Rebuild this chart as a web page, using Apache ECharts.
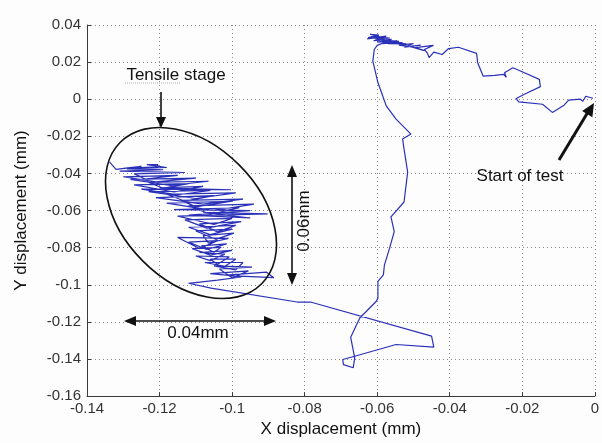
<!DOCTYPE html>
<html><head><meta charset="utf-8">
<script src="https://cdn.jsdelivr.net/npm/echarts@6/dist/echarts.min.js"></script>
<style>html,body{margin:0;padding:0;background:#fdfdfd}#c{width:602px;height:443px}</style>
</head><body><div id="c"></div>
<script>
// Axis ranges (mm)
const xRange = [-0.14, 0];
const yRange = [-0.16, 0.04];
const tickStep = 0.02;

// Trajectory segments, in order of the test
const startPath = [
  [-0.0005,0.0005],[-0.0025,0.0016],[-0.0033,-0.0011],[-0.0040,0.0000],[-0.0072,-0.0005],
  [-0.0085,-0.0032],[-0.0117,-0.0071],[-0.0144,-0.0027],[-0.0210,-0.0014],[-0.0217,0.0004],
  [-0.0194,0.0027],[-0.0150,0.0068],[-0.0153,0.0107],[-0.0194,0.0143],[-0.0226,0.0170],
  [-0.0249,0.0143],[-0.0244,0.0118],[-0.0251,0.0134],[-0.0276,0.0129],[-0.0308,0.0125],
  [-0.0323,0.0197],[-0.0326,0.0247],[-0.0376,0.0280],[-0.0403,0.0273],[-0.0421,0.0241],
  [-0.0444,0.0254],[-0.0457,0.0224],[-0.0462,0.0250]
];
const topScribble = [
  [-0.0470,0.0268],[-0.0445,0.0290],[-0.0495,0.0278],[-0.0470,0.0262],[-0.0510,0.0285],
  [-0.0480,0.0292],[-0.0525,0.0280],[-0.0500,0.0300],[-0.0540,0.0292],[-0.0515,0.0285],
  [-0.0555,0.0305],[-0.0520,0.0298],[-0.0570,0.0300],[-0.0540,0.0312],[-0.0585,0.0318],
  [-0.0550,0.0305],[-0.0600,0.0322],[-0.0565,0.0330],[-0.0615,0.0338],[-0.0580,0.0325],
  [-0.0625,0.0332],[-0.0595,0.0345],[-0.0620,0.0350],[-0.0590,0.0335],[-0.0628,0.0325],
  [-0.0575,0.0340],[-0.0610,0.0315],[-0.0560,0.0322],[-0.0600,0.0308],[-0.0545,0.0315],
  [-0.0590,0.0300],[-0.0530,0.0305],[-0.0575,0.0310],[-0.0600,0.0290],[-0.0605,0.0285]
];
const descent = [
  [-0.0608,0.0268],[-0.0612,0.0205],[-0.0598,0.0090],[-0.0575,-0.0036],[-0.0548,-0.0107],
  [-0.0507,-0.0188],[-0.0530,-0.0214],[-0.0526,-0.0268],[-0.0516,-0.0393],[-0.0526,-0.0554],
  [-0.0562,-0.0634],[-0.0553,-0.0714],[-0.0566,-0.0804],[-0.0580,-0.0893],[-0.0583,-0.0947],
  [-0.0598,-0.0982],[-0.0598,-0.1072],[-0.0603,-0.1090],[-0.0648,-0.1179],[-0.0673,-0.1283]
];
const bottomLoop = [
  [-0.0662,-0.1394],[-0.0666,-0.1447],[-0.0693,-0.1430],[-0.0695,-0.1403],[-0.0662,-0.1385],
  [-0.0548,-0.1322],[-0.0444,-0.1336],[-0.0450,-0.1277]
];
const returnPath = [
  [-0.0784,-0.1093],[-0.0821,-0.1093],[-0.1058,-0.1018],[-0.1120,-0.0992]
];
const tensileCluster = [
  [-0.1040,-0.0975],[-0.0975,-0.0958],[-0.1015,-0.0948],[-0.0905,-0.0932],[-0.0885,-0.0962],
  [-0.0995,-0.0952],[-0.1060,-0.0940],[-0.0955,-0.0925],[-0.1000,-0.0962],[-0.1035,-0.0915],
  [-0.0945,-0.0905],[-0.1050,-0.0898],[-0.0990,-0.0920],[-0.0970,-0.0880],[-0.1075,-0.0880],
  [-0.1020,-0.0900],[-0.0990,-0.0862],[-0.1060,-0.0862],[-0.1040,-0.0890],[-0.1008,-0.0850],
  [-0.1100,-0.0845],[-0.1060,-0.0870],[-0.1020,-0.0835],
  [-0.1090,-0.0826],[-0.1000,-0.0815],[-0.1060,-0.0840],[-0.1110,-0.0805],[-0.1030,-0.0798],
  [-0.1050,-0.0825],[-0.1085,-0.0790],[-0.1015,-0.0780],[-0.1070,-0.0810],[-0.1120,-0.0770],
  [-0.1040,-0.0762],[-0.1090,-0.0805],[-0.1150,-0.0745],[-0.1010,-0.0750],[-0.1065,-0.0775],
  [-0.1080,-0.0735],[-0.0995,-0.0722],[-0.1045,-0.0755],[-0.1100,-0.0710],[-0.1000,-0.0700],
  [-0.1060,-0.0730],[-0.1120,-0.0690],[-0.0990,-0.0680],[-0.1040,-0.0715],
  [-0.1090,-0.0672],[-0.0975,-0.0660],[-0.1070,-0.0695],[-0.1130,-0.0650],[-0.1000,-0.0642],
  [-0.1050,-0.0675],[-0.1150,-0.0630],[-0.0902,-0.0618],[-0.1080,-0.0610],[-0.0950,-0.0640],
  [-0.1120,-0.0625],[-0.0950,-0.0600],[-0.1160,-0.0595],[-0.0980,-0.0585],[-0.1060,-0.0620],
  [-0.1120,-0.0575],[-0.0940,-0.0565],[-0.1050,-0.0600],[-0.1180,-0.0560],[-0.1000,-0.0550],
  [-0.1100,-0.0580],[-0.1140,-0.0545],[-0.0970,-0.0538],[-0.1080,-0.0565],
  [-0.1210,-0.0530],[-0.1050,-0.0520],[-0.1130,-0.0550],[-0.1180,-0.0512],[-0.0990,-0.0505],
  [-0.1100,-0.0535],[-0.1230,-0.0498],[-0.1060,-0.0492],[-0.1150,-0.0515],[-0.1250,-0.0485],
  [-0.1003,-0.0488],[-0.1200,-0.0478],[-0.1080,-0.0470],[-0.1160,-0.0500],[-0.1270,-0.0462],
  [-0.1120,-0.0455],[-0.1190,-0.0480],[-0.1230,-0.0448],[-0.1065,-0.0442],[-0.1170,-0.0465],
  [-0.1280,-0.0432],[-0.1100,-0.0425],[-0.1210,-0.0445],[-0.1300,-0.0418],[-0.1150,-0.0410],
  [-0.1240,-0.0430],[-0.1270,-0.0402],[-0.1130,-0.0395],[-0.1310,-0.0388],[-0.1190,-0.0380],
  [-0.1290,-0.0375],[-0.1180,-0.0368],[-0.1235,-0.0352],[-0.1205,-0.0352],[-0.1205,-0.0365],
  [-0.1300,-0.0372],[-0.1250,-0.0362],[-0.1320,-0.0378],[-0.1338,-0.0338]
];

const trajectory = [].concat(startPath, topScribble, descent, bottomLoop, returnPath, tensileCluster);

const chart = echarts.init(document.getElementById('c'), null, {renderer: 'canvas'});
const FONT = '"Liberation Sans", Arial, sans-serif';
const fmt = v => String(+v.toFixed(2));
const gridLine = {show: true, lineStyle: {color: '#8a8a8a', width: 1, type: [1, 3]}};
const axisLine = {show: true, onZero: false, lineStyle: {color: '#3a3a3a', width: 1}};
const tick = {show: true, inside: true, length: 4, lineStyle: {color: '#3a3a3a'}};

function arrowHead(tx, ty, dx, dy, len, hw) {
  const L = Math.hypot(dx, dy), ux = dx / L, uy = dy / L;
  const bx = tx - ux * len, by = ty - uy * len;
  return {type: 'polygon', shape: {points: [[tx, ty], [bx - uy * hw, by + ux * hw], [bx + uy * hw, by - ux * hw]]},
          style: {fill: '#111'}, z: 100};
}
function seg(x1, y1, x2, y2, w) {
  return {type: 'line', shape: {x1, y1, x2, y2}, style: {stroke: '#111', lineWidth: w}, z: 100};
}
function txt(x, y, text, rot) {
  return {type: 'text', x, y, rotation: rot || 0, z: 100,
          style: {x: 0, y: 0, text, font: '17px ' + FONT, fill: '#111', textAlign: 'center', textVerticalAlign: 'middle'}};
}

chart.setOption({
  animation: false,
  backgroundColor: '#fdfdfd',
  grid: {left: 87, right: 1, top: 25, bottom: 45, containLabel: false},
  xAxis: {
    type: 'value', min: xRange[0], max: xRange[1], interval: tickStep,
    name: 'X displacement (mm)', nameLocation: 'middle', nameGap: 21,
    nameTextStyle: {fontFamily: FONT, fontSize: 17, color: '#111'},
    axisLine, axisTick: tick, splitLine: gridLine,
    axisLabel: {formatter: fmt, fontFamily: FONT, fontSize: 15, color: '#333', margin: 5, showMaxLabel: true, showMinLabel: true}
  },
  yAxis: {
    type: 'value', min: yRange[0], max: yRange[1], interval: tickStep,
    name: 'Y displacement (mm)', nameLocation: 'middle', nameGap: 57,
    nameTextStyle: {fontFamily: FONT, fontSize: 17, color: '#111'},
    axisLine, axisTick: tick, splitLine: gridLine,
    axisLabel: {formatter: fmt, fontFamily: FONT, fontSize: 15, color: '#333', margin: 6, showMaxLabel: true, showMinLabel: true}
  },
  series: [{
    type: 'line', data: trajectory, showSymbol: false, symbol: 'none',
    lineStyle: {color: '#2a31b8', width: 1.2}, z: 5
  }],
  graphic: [
    {type: 'ellipse', x: 191, y: 213, rotation: -Math.PI / 4, shape: {cx: 0, cy: 0, rx: 100, ry: 68},
     style: {fill: 'none', stroke: '#111', lineWidth: 1.6}, z: 100},
    txt(176, 75, 'Tensile stage'),
    {type: 'line', shape: {x1: 125, y1: 83, x2: 180, y2: 83}, style: {stroke: '#b0b0b0', lineWidth: 1, lineDash: [1, 1]}, z: 100},
    seg(161, 92, 161, 118, 1.6), arrowHead(161, 128, 0, 1, 11, 5),
    seg(134, 321, 266, 321, 1.6), arrowHead(124, 321, -1, 0, 12, 5), arrowHead(276, 321, 1, 0, 12, 5),
    txt(198, 333, '0.04mm'),
    seg(292, 175, 292, 275, 1.6), arrowHead(292, 165, 0, -1, 12, 5), arrowHead(292, 285, 0, 1, 12, 5),
    txt(304, 221, '0.06mm', Math.PI / 2),
    seg(559, 160, 588, 112, 3), arrowHead(594, 103, 34, -56, 13, 6),
    txt(520, 176, 'Start of test')
  ]
});
</script>
</body></html>
